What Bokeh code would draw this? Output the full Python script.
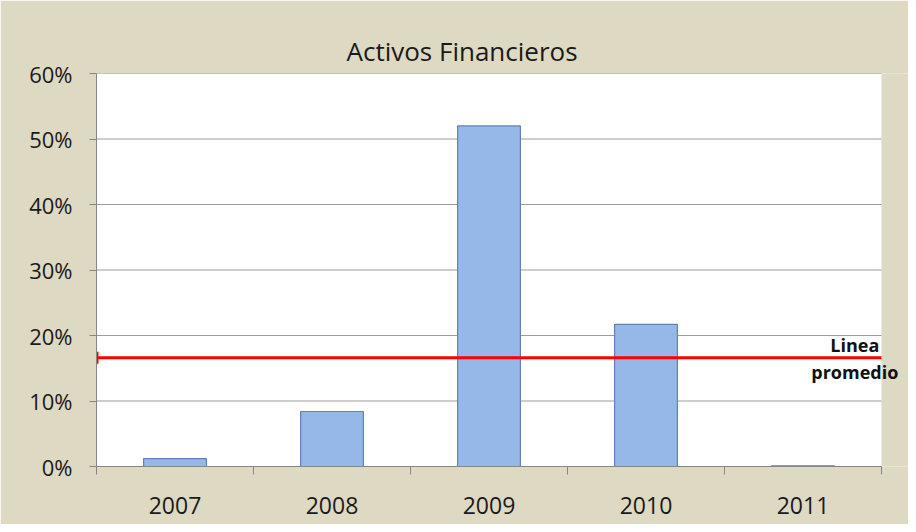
from bokeh.plotting import figure
from bokeh.models import Range1d, FixedTicker, NumeralTickFormatter, Label, BoxAnnotation
from bokeh.embed import file_html
from bokeh.resources import INLINE

years = ["2007", "2008", "2009", "2010", "2011"]
values = [0.012, 0.084, 0.520, 0.217, 0.001]
promedio = 0.166
y_ticks = [0.0, 0.1, 0.2, 0.3, 0.4, 0.5, 0.6]
title = "Activos Financieros"
avg_label = ["Linea", "promedio"]

FONT = "Open Sans"
BG = "#DDD9C3"
GRID = "#9C9C9C"
AXIS = "#868686"
TXT = "#1a1a1a"

n = len(years)
xs = list(range(n))
x_lo, x_hi = -0.5, n - 0.5

p = figure(width=908, height=524, output_backend="svg", toolbar_location=None,
           x_range=Range1d(x_lo, x_hi + 0.172), y_range=Range1d(0, 0.6),
           min_border_left=96, min_border_right=0, min_border_top=73, min_border_bottom=58)
p.background_fill_color = BG
p.border_fill_color = BG
p.outline_line_color = None
p.xgrid.visible = False
p.ygrid.visible = False

# white plot area
p.add_layout(BoxAnnotation(left=x_lo, right=x_hi, fill_color="white", fill_alpha=1,
                           line_color=None, level="image"))

p.title.text = title
p.title.align = "left"
p.title.offset = 250
p.title.text_font = FONT
p.title.text_font_size = "26px"
p.title.text_font_style = "normal"
p.title.text_color = TXT
p.title.standoff = 9

# gridlines
gy = [t for t in y_ticks if t > 0]
p.segment(x0=[x_lo] * len(gy), x1=[x_hi] * len(gy), y0=gy, y1=gy,
          line_color=GRID, line_width=1.2)

p.vbar(x=xs, top=values, width=0.4, fill_color="#95B8E8", line_color="#6282B5", line_width=1.2)

# average line
p.segment(x0=[x_lo], x1=[x_hi], y0=[promedio], y1=[promedio], line_color="#FF0000", line_width=3)
p.scatter(x=[x_lo], y=[promedio], marker="dash", angle=1.5708, size=12,
          line_color="#FF0000", line_width=4)

lab_x = 4.33
p.add_layout(Label(x=lab_x, y=0.185, text=avg_label[0], text_align="center",
                   text_baseline="middle", text_font=FONT, text_font_style="bold",
                   text_font_size="18px", text_color="#111111"))
p.add_layout(Label(x=lab_x, y=0.145, text=avg_label[1], text_align="center",
                   text_baseline="middle", text_font=FONT, text_font_style="bold",
                   text_font_size="18px", text_color="#111111"))

xa = p.xaxis[0]
xa.bounds = (x_lo, x_hi)
xa.ticker = FixedTicker(ticks=xs, minor_ticks=[i - 0.5 for i in range(n + 1)])
xa.major_label_overrides = {i: y for i, y in enumerate(years)}
xa.major_tick_line_color = None
xa.major_tick_out = 0
xa.major_tick_in = 0
xa.minor_tick_out = 8
xa.minor_tick_in = 0
xa.minor_tick_line_color = AXIS
xa.axis_line_color = AXIS
xa.major_label_standoff = 22
xa.major_label_text_font = FONT
xa.major_label_text_font_size = "23px"
xa.major_label_text_color = TXT

ya = p.yaxis[0]
ya.ticker = FixedTicker(ticks=y_ticks)
ya.formatter = NumeralTickFormatter(format="0%")
ya.minor_tick_line_color = None
ya.major_tick_out = 7
ya.major_tick_in = 0
ya.major_tick_line_color = AXIS
ya.axis_line_color = AXIS
ya.major_label_standoff = 17
ya.major_label_text_font = FONT
ya.major_label_text_font_size = "22px"
ya.major_label_text_color = TXT

open("out.html", "w").write(file_html(p, INLINE))
